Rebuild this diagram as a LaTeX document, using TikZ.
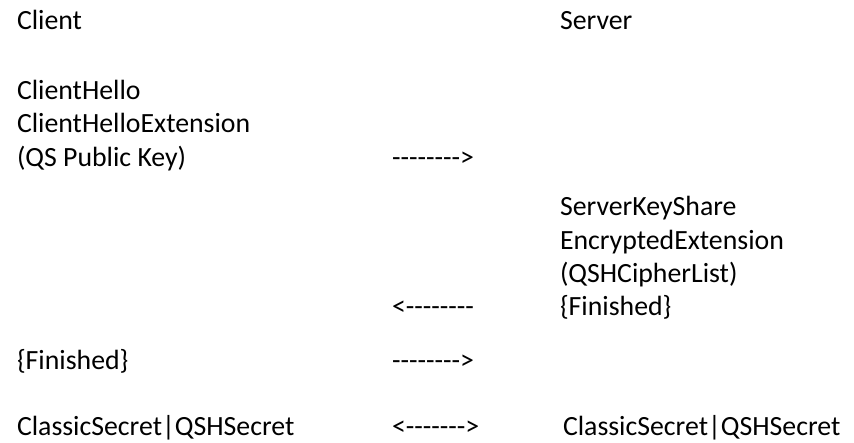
\documentclass[tikz,border=0pt]{standalone}
\usepackage{fontspec}
\setmainfont[Ligatures=TeXOff]{Carlito}
\begin{document}
\begin{tikzpicture}[x=1pt,y=-1pt,
  msg/.style={anchor=base west,inner sep=0pt,outer sep=0pt,font=\fontsize{27.8}{33}\selectfont,text=black}]
\useasboundingbox (0,0) rectangle (854,443);
% column titles
\node[msg] (client) at (17,29.5) {Client};
\node[msg] (server) at (560,29.5) {Server};
% client hello
\node[msg] (ch1) at (17,99.5) {ClientHello};
\node[msg] (ch2) at (17,133) {ClientHelloExtension};
\node[msg] (ch3) at (17,166.7) {(QS Public Key)};
\node[msg] (a1) at (392,166.7) {-------->};
% server reply
\node[msg] (sv1) at (560,216) {ServerKeyShare};
\node[msg] (sv2) at (560,249.5) {EncryptedExtension};
\node[msg] (sv3) at (560,282.7) {(QSHCipherList)};
\node[msg] (sv4) at (560,316) {\{Finished\}};
\node[msg] (a2) at (392,316) {<--------};
% client finished
\node[msg] (cf) at (17,369.5) {\{Finished\}};
\node[msg] (a3) at (392,369.5) {-------->};
% shared secret
\node[msg] (cs) at (17,435.5) {ClassicSecret|QSHSecret};
\node[msg] (a4) at (392,435.5) {<------->};
\node[msg] (ss) at (563,435.5) {ClassicSecret|QSHSecret};
\end{tikzpicture}
\end{document}
